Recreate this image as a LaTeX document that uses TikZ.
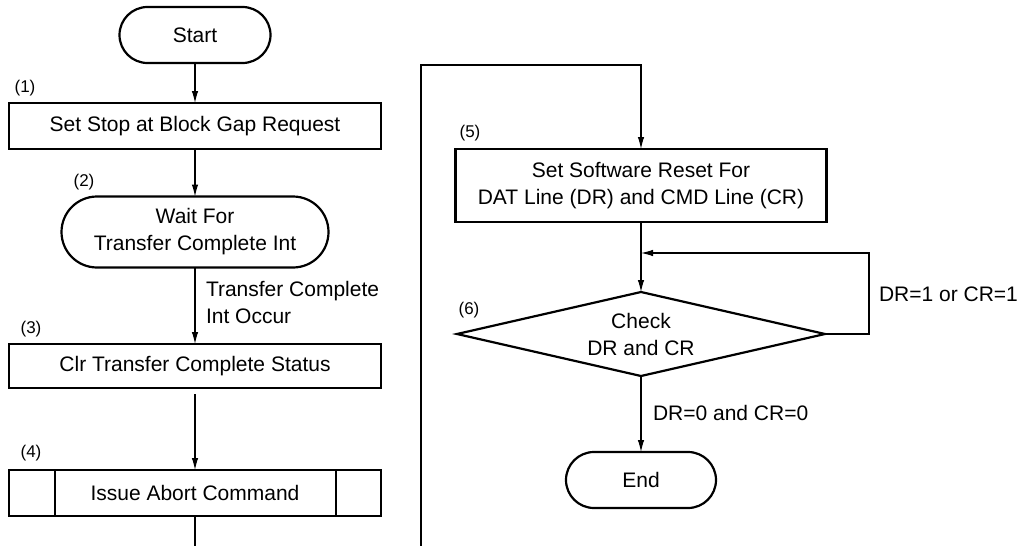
\documentclass[tikz,border=0pt]{standalone}
\usepackage{fontspec}
\setmainfont{Liberation Sans}
\usetikzlibrary{shapes.geometric,shapes.misc,arrows.meta}
\begin{document}
\begin{tikzpicture}[x=1pt,y=-1pt,
  every node/.style={font=\fontsize{21}{27}\selectfont, inner sep=0pt, outer sep=0pt},
  box/.style={draw, line width=2.2pt, rectangle, align=center, minimum width=#1},
  term/.style={draw, line width=2.2pt, rounded rectangle, align=center, minimum width=#1},
  decide/.style={draw, line width=2.2pt, diamond, aspect=4.4, align=center, minimum width=368pt, minimum height=84pt},
  stepno/.style={font=\fontsize{17}{20}\selectfont},
  lbl/.style={align=left, anchor=west},
  conn/.style={line width=1.1pt},
  arr/.style={line width=1.1pt, -{Latex[length=12pt,width=6.5pt]}},
]
\useasboundingbox (0,0) rectangle (1021,546);

% left column
\node[term=151pt, minimum height=56pt] (start) at (195,35) {Start};
\node[box=372pt, minimum height=46pt] (s1) at (195,126) {Set Stop at Block Gap Request};
\node[term=267pt, minimum height=71pt] (s2) at (195,232) {Wait For\\Transfer Complete Int};
\node[box=372pt, minimum height=44pt] (s3) at (195,366) {Clr Transfer Complete Status};
\node[box=372pt, minimum height=46pt] (s4) at (195,493) {Issue Abort Command};
\draw[line width=2.2pt] (55,470) -- (55,516) (336,470) -- (336,516);

\node[stepno] (n1) at (25,88) {(1)};
\node[stepno] (n2) at (84,182) {(2)};
\node[stepno] (n3) at (31,329) {(3)};
\node[stepno] (n4) at (31,453) {(4)};

\node[lbl] (t2) at (206,302.5) {Transfer Complete\\Int Occur};

\coordinate (lbot) at (195,546);
\coordinate (rbot) at (421,546);

\draw[arr] (start) -- (s1);
\draw[arr] (s1) -- (s2);
\draw[arr] (s2) -- (s3);
\draw[arr, shorten <=6pt] (s3) -- (s4);
\draw[conn] (s4) -- (lbot);

% right column
\node[box=371pt, minimum height=73pt] (s5) at (641,185.5) {Set Software Reset For\\DAT Line (DR) and CMD Line (CR)};
\node[decide] (d6) at (641,334) {Check\\DR and CR};
\node[term=150pt, minimum height=56pt] (fin) at (641,480) {End};

\node[stepno] (n5) at (470,133) {(5)};
\node[stepno] (n6) at (469,310) {(6)};

\coordinate (rtop) at (421,65);
\coordinate (loopr) at (869,253);
\coordinate (merge) at (641,253);

\draw[arr] (rbot) -- (rtop) -| (s5.north);
\draw[arr] (s5) -- (d6);
\draw[arr] (d6.east) -| (loopr) -- (merge);
\draw[arr] (d6) -- (fin);

\node[lbl] (c1) at (879,294) {DR=1 or CR=1};
\node[lbl] (c0) at (653,413) {DR=0 and CR=0};
\end{tikzpicture}
\end{document}
